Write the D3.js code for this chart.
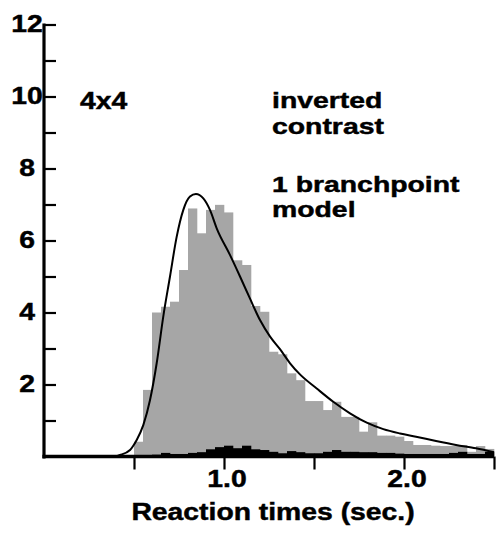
<!DOCTYPE html>
<html>
<head>
<meta charset="utf-8">
<script src="https://cdn.jsdelivr.net/npm/d3@7/dist/d3.min.js"></script>
<style>
  html, body { margin: 0; padding: 0; background: #fff; }
  svg { display: block; }
  text { font-family: "Liberation Sans", Arial, Helvetica, sans-serif; font-weight: bold; fill: #000; stroke: #000; stroke-width: 0.45px; }
</style>
</head>
<body>
<svg id="chart" width="496" height="533"></svg>
<script>
// Histogram bins: lower edges in seconds, 0.05 s wide
const binWidth = 0.05;
const binLow = d3.range(40).map(i => +(0.5 + i * binWidth).toFixed(2));

// Observed reaction-time frequencies (grey) and error trials (black)
const greyHeights = [0.41, 1.85, 4.0, 4.16, 4.3, 5.18, 6.89, 6.2, 6.85, 6.99,
                     6.78, 5.45, 5.32, 4.18, 4.02, 2.91, 2.84, 2.31, 2.12, 1.54,
                     1.54, 1.29, 1.52, 1.1, 1.1, 0.69, 0.95, 0.58, 0.58, 0.55,
                     0.43, 0.32, 0.32, 0.3, 0.29, 0.29, 0.32, 0.13, 0.29, 0.21];
const blackHeights = [0.0, 0.03, 0.05, 0.1, 0.07, 0.07, 0.1, 0.12, 0.2, 0.26,
                      0.3, 0.23, 0.3, 0.2, 0.18, 0.13, 0.09, 0.15, 0.12, 0.09,
                      0.09, 0.13, 0.18, 0.13, 0.13, 0.12, 0.12, 0.1, 0.1, 0.08,
                      0.07, 0.07, 0.07, 0.07, 0.07, 0.1, 0.13, 0.07, 0.07, 0.13];

// Fitted 1-branchpoint model density
const modelX = [0.0, 0.30, 0.38, 0.406, 0.422, 0.478, 0.496, 0.515, 0.552, 0.589,
                0.626, 0.663, 0.70, 0.737, 0.774, 0.811, 0.844, 0.885, 0.922, 0.96,
                1.033, 1.089, 1.144, 1.20, 1.256, 1.311, 1.367, 1.422, 1.515, 1.607,
                1.70, 1.793, 1.885, 1.978, 2.067, 2.178, 2.289, 2.40, 2.50];
const modelY = [0.0, 0.0, 0.005, 0.015, 0.04, 0.18, 0.3, 0.46, 0.88, 1.57,
                2.59, 3.9, 5.0, 6.1, 6.85, 7.22, 7.29, 7.17, 6.85, 6.33,
                5.6, 5.0, 4.39, 3.79, 3.33, 2.98, 2.59, 2.28, 1.89, 1.52,
                1.2, 0.94, 0.76, 0.64, 0.55, 0.43, 0.32, 0.23, 0.12];

// Axis ticks
const xTicks = [0.5, 1.0, 1.5, 2.0, 2.5];
const xTickLabels = [{v: 1.0, t: "1.0"}, {v: 2.0, t: "2.0"}];
const yTicks = d3.range(1, 13);
const yTickLabels = [2, 4, 6, 8, 10, 12];

const svg = d3.select("#chart");
const x = d3.scaleLinear().domain([0, 2.5]).range([44, 494]);
const y = d3.scaleLinear().domain([0, 12]).range([456.5, 24.5]);

// Draws one label line in the widened bold face
function label(px, py, txt, anchor, size, stretch) {
  svg.append("g")
    .attr("transform", `translate(${px},${py}) scale(${stretch || 1.18},1)`)
    .append("text")
    .attr("text-anchor", anchor || "start")
    .attr("font-size", size || 24)
    .text(txt);
}

// grey histogram
svg.append("g").selectAll("rect")
  .data(binLow.map((b, i) => ({b, h: greyHeights[i]})))
  .join("rect")
  .attr("x", d => x(d.b))
  .attr("width", d => x(d.b + binWidth) - x(d.b) + 0.3)
  .attr("y", d => y(d.h))
  .attr("height", d => y(0) - y(d.h))
  .attr("fill", "#a6a6a6");

// black histogram
svg.append("g").selectAll("rect")
  .data(binLow.map((b, i) => ({b, h: blackHeights[i]})))
  .join("rect")
  .attr("x", d => x(d.b))
  .attr("width", d => x(d.b + binWidth) - x(d.b) + 0.3)
  .attr("y", d => y(d.h))
  .attr("height", d => y(0) - y(d.h))
  .attr("fill", "#000");

// model curve
const line = d3.line().x(d => x(d[0])).y(d => y(d[1])).curve(d3.curveMonotoneX);
svg.append("path")
  .datum(modelX.map((v, i) => [v, modelY[i]]))
  .attr("d", line)
  .attr("fill", "none")
  .attr("stroke", "#000")
  .attr("stroke-width", 2);

// y axis: ticks point inward
const yAxis = d3.axisRight(y).tickValues(yTicks).tickSize(12).tickSizeOuter(0).tickFormat("");
const gy = svg.append("g").attr("transform", `translate(${x(0)},0)`).call(yAxis);
gy.select(".domain").remove();
gy.selectAll(".tick line").attr("stroke", "#000").attr("stroke-width", 2.2);
svg.append("line")
  .attr("x1", x(0)).attr("x2", x(0))
  .attr("y1", y(12) - 1).attr("y2", y(0) + 2)
  .attr("stroke", "#000").attr("stroke-width", 3.2);

// x axis: ticks point outward
const xAxis = d3.axisBottom(x).tickValues(xTicks).tickSize(13).tickSizeOuter(0).tickFormat("");
const gx = svg.append("g").attr("transform", `translate(0,${y(0)})`).call(xAxis);
gx.select(".domain").remove();
gx.selectAll(".tick line").attr("stroke", "#000").attr("stroke-width", 2.2);
svg.append("line")
  .attr("x1", x(0) - 1.6).attr("x2", x(2.5))
  .attr("y1", y(0)).attr("y2", y(0))
  .attr("stroke", "#000").attr("stroke-width", 3.5);

// tick labels
yTickLabels.forEach(v => label(27, y(v) + 7, String(v), "middle"));
xTickLabels.forEach(d => label(x(d.v) + 3, 487, d.t, "middle"));

// axis title
label(273, 520, "Reaction times (sec.)", "middle");

// annotations (two-line blocks set slightly tighter)
label(80, 109, "4x4");
label(272, 108, "inverted", "start", 22, 1.29);
label(272, 133.5, "contrast", "start", 22, 1.29);
label(272, 192, "1 branchpoint", "start", 22, 1.29);
label(272, 217, "model", "start", 22, 1.29);
</script>
</body>
</html>
